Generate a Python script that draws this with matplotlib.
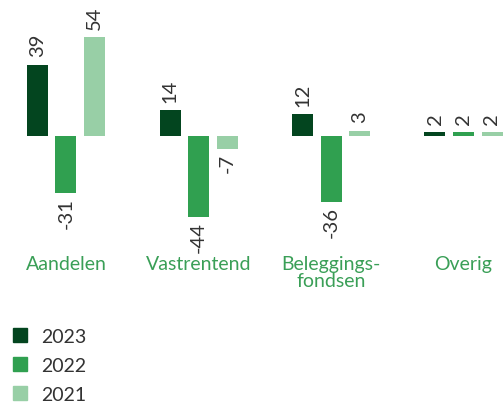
import numpy as np
import matplotlib.pyplot as plt
from matplotlib.patches import Patch

plt.rcParams['font.family'] = ['Lato', 'DejaVu Sans']

categories = ['Aandelen', 'Vastrentend', 'Beleggings-\nfondsen', 'Overig']
years = ['2023', '2022', '2021']
v2023 = [39, 14, 12, 2]
v2022 = [-31, -44, -36, 2]
v2021 = [54, -7, 3, 2]
series = [v2023, v2022, v2021]
colors = ['#03451f', '#30a050', '#98cfa6']
label_green = '#3a9f57'
text_gray = '#333333'

W, H = 503, 406
fig = plt.figure(figsize=(W / 100, H / 100), dpi=100)
ax = fig.add_axes([0, 0, 1, 1])

# pixel geometry: group step 132.5 px, first group centre 66 px, zero line at 137 px
step = 132.5
ax.set_xlim(-66 / step, (W - 66) / step)
ppu = 1.83
ax.set_ylim(-(H - 137) / ppu, 137 / ppu)
ax.axis('off')

x = np.arange(len(categories))
width = 21 / step
offset = 28.5 / step

for i, (vals, c) in enumerate(zip(series, colors)):
    xs = x + (i - 1) * offset
    ax.bar(xs, vals, width=width, color=c, label=years[i])
    for xi, v in zip(xs, vals):
        if v >= 0:
            ax.annotate(str(v), (xi, v), xytext=(0, 6), textcoords='offset points',
                        rotation=90, ha='center', va='bottom', fontsize=14.5, color=text_gray)
        else:
            ax.annotate(str(v), (xi, v), xytext=(0, -3), textcoords='offset points',
                        rotation=90, ha='center', va='top', fontsize=14.5, color=text_gray)

# category labels below the bars
for xi, cat in zip(x, categories):
    ax.text(xi, -(256 - 137) / ppu, cat, ha='center', va='top', fontsize=14,
            color=label_green, linespacing=1.0)

handles = [Patch(color=c, label=y) for c, y in zip(colors, years)]
fig.legend(handles=handles, loc='upper left', bbox_to_anchor=(13 / W, 1 - 329 / H),
           frameon=False, fontsize=14, handlelength=0.72, handleheight=0.72,
           handletextpad=0.75, labelspacing=0.62, borderpad=0, borderaxespad=0,
           labelcolor=text_gray)

fig.savefig('out.png', dpi=100)
